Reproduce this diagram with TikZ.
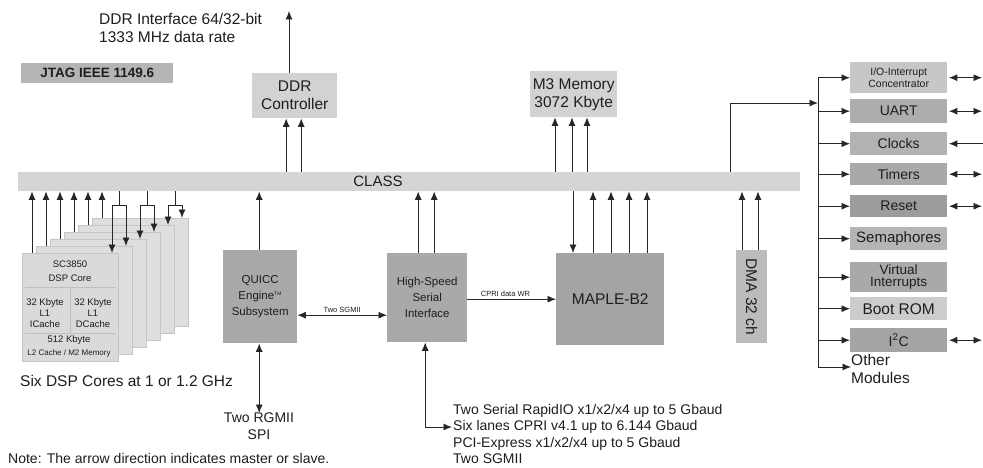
\documentclass[tikz,border=0pt]{standalone}
\usepackage{fontspec}
\setmainfont{Liberation Sans}
\usetikzlibrary{arrows.meta}
\definecolor{txt}{HTML}{1E1E1E}
\definecolor{cClass}{HTML}{D5D5D5}
\definecolor{cLight}{HTML}{D2D2D2}
\definecolor{cJtag}{HTML}{B5B5B5}
\definecolor{cDark}{HTML}{A9A9A9}
\definecolor{cMaple}{HTML}{A4A4A4}
\definecolor{cDma}{HTML}{BBBBBB}
\definecolor{cCore}{HTML}{DADADA}
\definecolor{cRear}{HTML}{DEDEDE}
\definecolor{cEdge}{HTML}{C6C6C6}
\newcommand{\szA}{\fontsize{15.5}{18}\selectfont}
\newcommand{\szB}{\fontsize{14}{16.5}\selectfont}
\newcommand{\szC}{\fontsize{11.5}{16}\selectfont}
\newcommand{\szD}{\fontsize{9.5}{11}\selectfont}
\newcommand{\szE}{\fontsize{8}{9}\selectfont}
\begin{document}
\begin{tikzpicture}[x=1pt,y=-1pt,
  ln/.style={draw=black!85,line width=0.9pt},
  arr/.style={ln,-{Latex[length=8.5pt,width=7pt]}},
  darr/.style={ln,{Latex[length=8.5pt,width=7pt]}-{Latex[length=8.5pt,width=7pt]}},
  blk/.style={rectangle,inner sep=0pt,anchor=north west,align=center,text=txt},
  rbox/.style={blk,minimum width=97pt,font=\szB},
  core/.style={blk,minimum width=96pt,minimum height=108pt},
  plain/.style={inner sep=0pt,text=txt,align=left},
]
\useasboundingbox (0,0) rectangle (983,468);
\fill[white] (0,0) rectangle (983,468);

% top texts and boxes
\node[plain,anchor=north west,font=\szA] (ddrtxt) at (99,13) {DDR Interface 64/32-bit\\1333 MHz data rate};
\node[blk,fill=cJtag,minimum width=152pt,minimum height=20pt,font=\bfseries\fontsize{13.5}{14}\selectfont] (jtag) at (21,63) {JTAG IEEE 1149.6};
\node[blk,fill=cLight,minimum width=85pt,minimum height=45pt,font=\szA] (ddr) at (252,73) {DDR\\Controller};
\node[blk,fill=cLight,minimum width=87pt,minimum height=46pt,font=\szA] (m3) at (530,71) {M3 Memory\\3072 Kbyte};
\coordinate (ddrout) at (289,11);

% CLASS bar
\node[blk,fill=cClass,minimum width=782pt,minimum height=19pt] (class) at (18,172) {};
\node[plain,font=\fontsize{15}{15}\selectfont] (classlbl) at (378,181.5) {CLASS};

% DSP cores (rear to front)
\foreach \k in {5,4,3,2,1} {
  \node[core,fill=cRear,draw=cEdge,line width=0.6pt] (core\k) at (22+14*\k,253-7*\k) {};
}
\node[core,fill=cCore,draw=cEdge,line width=0.6pt] (core0) at (22,253) {};
\draw[black!25,line width=0.7pt] ([xshift=3pt,yshift=-34pt]core0.north west) -- ([xshift=-3pt,yshift=-34pt]core0.north east);
\draw[black!25,line width=0.7pt] ([yshift=-34pt]core0.north) -- ([yshift=-80pt]core0.north);
\draw[black!25,line width=0.7pt] ([xshift=3pt,yshift=-80pt]core0.north west) -- ([xshift=-3pt,yshift=-80pt]core0.north east);
\node[plain,align=center,font=\szD] (dsp) at (70,271) {SC3850\\[3pt]DSP Core};
\node[plain,align=center,font=\szD] (icache) at (45,313) {32 Kbyte\\L1\\ICache};
\node[plain,align=center,font=\szD] (dcache) at (93,313) {32 Kbyte\\L1\\DCache};
\node[plain,align=center,font=\szD] (l2a) at (69,340) {512 Kbyte};
\node[plain,align=center,font=\szE] (l2b) at (69,353) {L2 Cache / M2 Memory};
\node[plain,anchor=west,font=\szA] (sixcores) at (20,381) {Six DSP Cores at 1 or 1.2 GHz};

% core connectors
\foreach \k in {0,...,5} {
  \draw[arr] ([xshift=10pt]core\k.north west) -- ([xshift=10pt]core\k.north west |- class.south);
}
\coordinate (dj0) at (119,205);
\coordinate (dj1) at (147,205);
\coordinate (dj2) at (175,205);
\foreach \j/\a/\b in {0/0/1,1/2/3,2/4/5} {
  \draw[ln] (dj\j |- class.south) -- (dj\j);
  \draw[arr] (dj\j) -| ([xshift=90pt]core\a.north west);
  \draw[arr] (dj\j) -| ([xshift=90pt]core\b.north west);
}

% middle blocks
\node[blk,fill=cDark,minimum width=74pt,minimum height=93pt,font=\szC] (quicc) at (223,250) {QUICC\\Engine\textsuperscript{\tiny TM}\\Subsystem};
\node[blk,fill=cDark,minimum width=80pt,minimum height=89pt,font=\szC] (hssi) at (387,253) {High-Speed\\Serial\\Interface};
\node[blk,fill=cMaple,minimum width=108pt,minimum height=92pt,font=\szA] (maple) at (556,253) {MAPLE-B2};
\node[blk,fill=cDma,minimum width=31pt,minimum height=93pt] (dma) at (736,250) {};
\node[plain,rotate=-90,font=\szA] (dmalbl) at (dma.center) {DMA 32 ch};

\node[plain,anchor=north,align=center,font=\szB] (rgmii) at (259,413) {Two RGMII\\SPI};
\node[plain,anchor=north west,font=\szB] (hsstxt) at (453,404) {Two Serial RapidIO x1/x2/x4 up to 5 Gbaud\\Six lanes CPRI v4.1 up to 6.144 Gbaud\\PCI-Express x1/x2/x4 up to 5 Gbaud\\Two SGMII};
\coordinate (cpin) at (452,427);
\node[plain,anchor=west,font=\szB] (note) at (8,458) {Note: The arrow direction indicates master or slave.};

% middle connectors
\draw[arr] (ddr.north -| ddrout) -- (ddrout);
\draw[arr] ([xshift=-8.5pt]ddr.south |- class.north) -- ([xshift=-8.5pt]ddr.south);
\draw[arr] ([xshift=6.5pt]ddr.south |- class.north) -- ([xshift=6.5pt]ddr.south);
\foreach \d in {25,42,57} {
  \draw[arr] ([xshift=\d pt]m3.south west |- class.north) -- ([xshift=\d pt]m3.south west);
}
\draw[arr] ([xshift=-1pt]quicc.north) -- ([xshift=-1pt]quicc.north |- class.south);
\draw[darr] ([xshift=-1pt]quicc.south) -- ([xshift=-1pt]quicc.south |- rgmii.north);
\draw[arr] ([xshift=-9pt]hssi.north) -- ([xshift=-9pt]hssi.north |- class.south);
\draw[arr] ([xshift=7pt]hssi.north) -- ([xshift=7pt]hssi.north |- class.south);
\draw[darr] ([xshift=-2pt]hssi.south) |- (cpin);
\draw[darr] ([yshift=-18.5pt]quicc.east) -- ([yshift=-18.5pt]quicc.east -| hssi.west)
  node[midway,above=2pt,font=\fontsize{7.5}{8}\selectfont,text=txt,inner sep=0pt] (sgmiilbl) {Two SGMII};
\draw[arr] (hssi.east |- maple.west) -- (maple.west)
  node[pos=0.43,above=2pt,font=\fontsize{7.5}{8}\selectfont,text=txt,inner sep=0pt] (cprilbl) {CPRI data WR};
\draw[arr] ([xshift=17pt]maple.north west |- class.south) -- ([xshift=17pt]maple.north west);
\foreach \d in {37,55,73,91} {
  \draw[arr] ([xshift=\d pt]maple.north west) -- ([xshift=\d pt]maple.north west |- class.south);
}
\draw[arr] ([xshift=6pt]dma.north west) -- ([xshift=6pt]dma.north west |- class.south);
\draw[arr] ([xshift=22pt]dma.north west) -- ([xshift=22pt]dma.north west |- class.south);

% right column
\node[rbox,fill=cLight!95!black,minimum height=31pt,font=\fontsize{10.5}{11.5}\selectfont] (io) at (850,62) {I/O-Interrupt\\Concentrator};
\node[rbox,fill=cDark!95!white,minimum height=24pt] (uart) at (850,99) {UART};
\node[rbox,fill=cDma!95!black,minimum height=23pt] (clocks) at (850,132) {Clocks};
\node[rbox,fill=cDark,minimum height=22pt] (timers) at (850,163) {Timers};
\node[rbox,fill=cMaple!95!black,minimum height=22pt] (reset) at (850,195) {Reset};
\node[rbox,fill=cJtag,minimum height=23pt,font=\fontsize{15}{15}\selectfont] (sema) at (850,227) {Semaphores};
\node[rbox,fill=cDark,minimum height=30pt,font=\fontsize{13.5}{12.5}\selectfont] (virt) at (850,262) {Virtual\\Interrupts};
\node[rbox,fill=cLight!97!black,minimum height=23pt,font=\szA] (boot) at (850,297) {Boot ROM};
\node[rbox,fill=cMaple,minimum height=24pt] (i2c) at (850,328) {I\textsuperscript{2}C};
\node[plain,anchor=north west,font=\szA,align=left] (other) at (851,354) {Other\\Modules};

\coordinate (busT) at (818,77.5);
\coordinate (busB) at (818,367);
\coordinate (busIn) at (818,103);
\coordinate (rx) at (982,0);
\draw[ln] (busT) -- (busB);
\draw[arr] ([xshift=712pt]class.north west) |- (busIn);
\foreach \n in {io,uart,clocks,timers,reset,sema,virt,boot,i2c} {
  \draw[arr] (busT |- \n.west) -- (\n.west);
}
\draw[arr] (busB) -- (busB -| other.west);
\foreach \n in {io,uart,timers,reset,i2c} {
  \draw[darr,shorten <=1.5pt] (\n.east) -- (\n.east -| rx);
}
\draw[arr,shorten >=1.5pt] ([xshift=1pt]clocks.east -| rx) -- (clocks.east);
\end{tikzpicture}
\end{document}
